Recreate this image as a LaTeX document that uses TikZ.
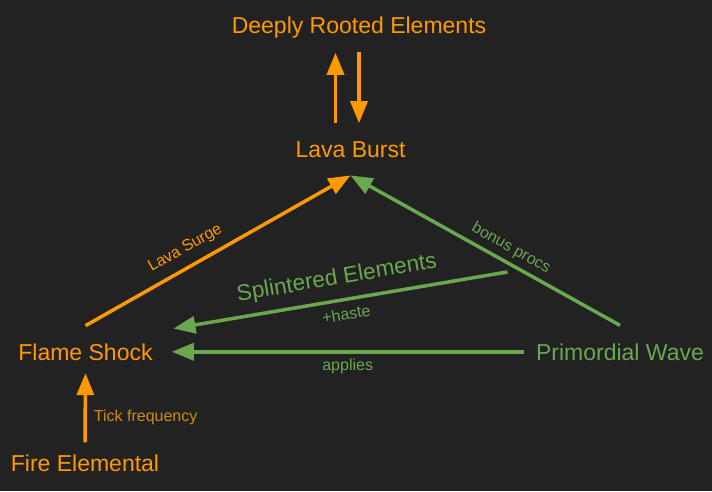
\documentclass[tikz,border=0pt]{standalone}
\usepackage{fontspec}
\setmainfont{Liberation Sans}
\usetikzlibrary{arrows.meta}
\definecolor{bg}{HTML}{222222}
\definecolor{fire}{HTML}{FF9900}
\definecolor{tickc}{HTML}{D08A12}
\definecolor{wave}{HTML}{6AA84F}
\tikzset{
  spell/.style={inner sep=0pt,anchor=base,font=\fontsize{23}{27}\selectfont},
  lbl/.style={inner sep=1pt,font=\fontsize{16}{19}\selectfont},
  biglbl/.style={inner sep=1pt,font=\fontsize{22.6}{26}\selectfont},
  link/.style={line width=3.5pt,-{Triangle[length=22pt,width=17pt]}},
}
\begin{document}
\begin{tikzpicture}[x=1pt,y=-1pt]
\fill[bg](0,0) rectangle (712,491);
\useasboundingbox (0,0) rectangle (712,491);

\node[spell,text=fire] (dre) at (359,33) {Deeply Rooted Elements};
\node[spell,text=fire] (lb) at (350.5,157) {Lava Burst};
\node[spell,text=fire] (fs) at (85.5,360) {Flame Shock};
\node[spell,text=fire] (fe) at (85,471) {Fire Elemental};
\node[spell,text=wave] (pw) at (620,360) {Primordial Wave};

\draw[link,fire]([shift={(-15pt,17.5pt)}]lb.north)--([shift={(-23.5pt,-14.8pt)}]dre.south);
\draw[link,fire]([yshift=-14.4pt]dre.south)--([shift={(8.5pt,17.8pt)}]lb.north);
\draw[link,fire]([yshift=17.5pt]fs.north)--([yshift=-18pt]lb.south)
  node[lbl,pos=.41,sloped,above=8pt]{Lava Surge};
\draw[link,wave]([yshift=17.8pt]pw.north)--([yshift=-18pt]lb.south)
  node[lbl,pos=.43,sloped,above=4pt]{bonus procs};
\draw[link,wave]([shift={(-112.5pt,71.2pt)}]pw.north)--([shift={(20.7pt,23.25pt)}]fs.east)
  node[biglbl,pos=.5,sloped,above=8.5pt]{Splintered Elements}
  node[lbl,pos=.49,sloped,below=6pt]{+haste};
\draw[link,wave]([xshift=-12.3pt]pw.west)--([xshift=19pt]fs.east)
  node[lbl,pos=.5,below=4.5pt]{applies};
\draw[link,fire]([yshift=11.8pt]fe.north)--([yshift=-12.7pt]fs.south)
  node[lbl,pos=.367,right=6pt,text=tickc]{Tick frequency};
\end{tikzpicture}
\end{document}
